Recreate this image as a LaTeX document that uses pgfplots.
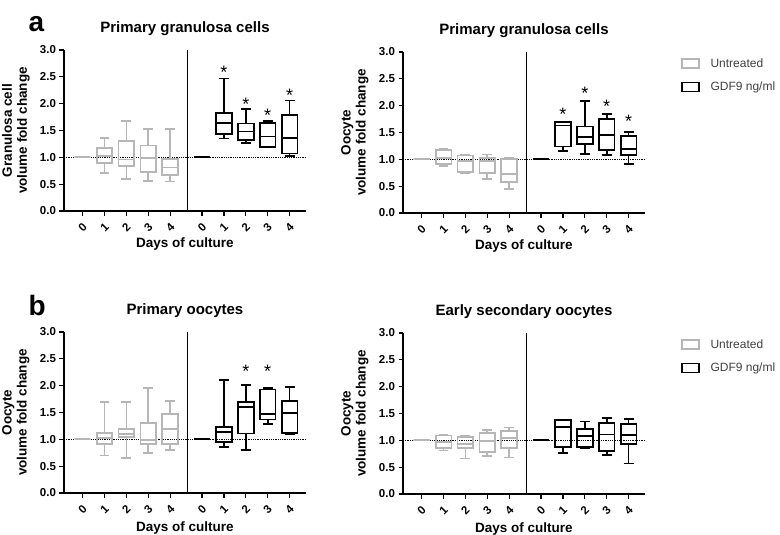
\documentclass[border=0pt]{standalone}
\usepackage{fontspec}
\setmainfont{Liberation Sans}
\usepackage{pgfplots}
\pgfplotsset{compat=1.18}
\usepgfplotslibrary{statistics}
\definecolor{ugray}{RGB}{182,182,182}
\newcommand{\bx}[7]{\addplot[#1, boxplot prepared={draw position=#2, lower whisker=#3, lower quartile=#4, median=#5, upper quartile=#6, upper whisker=#7}] coordinates {};}
\pgfplotsset{
  panel/.style={
    scale only axis, width=242pt, height=161pt,
    xmin=-0.85, xmax=10.2, ymin=0, ymax=3,
    axis x line*=bottom, axis y line*=left,
    axis line style={line width=1.7pt},
    tick align=outside, major tick length=4.5pt,
    tick style={line width=1.3pt, black},
    ytick={0,0.5,1,1.5,2,2.5,3},
    /pgf/number format/assume math mode=true,
    yticklabel style={/pgf/number format/fixed, /pgf/number format/fixed zerofill, /pgf/number format/precision=1},
    ticklabel style={font=\fontsize{11.5}{13}\selectfont\bfseries},
    xtick={0,1,2,3,4,5.45,6.45,7.45,8.45,9.45},
    xticklabels={0,1,2,3,4,0,1,2,3,4},
    xticklabel style={anchor=center, yshift=-12pt, rotate=45},
    xlabel={Days of culture},
    xlabel style={anchor=base, font=\fontsize{13.5}{15}\selectfont\bfseries},
    ylabel style={at={(axis description cs:-0.199,0.5)}, anchor=center, align=center, font=\fontsize{13.5}{15}\selectfont\bfseries},
    every axis title shift=0pt,
    title style={at={(axis description cs:0.5,1.1056)}, anchor=base, yshift=0pt, font=\fontsize{15}{17}\selectfont\bfseries},
    boxplot/draw direction=y,
    boxplot/box extend=0.72,
    boxplot/whisker extend=0.45,
    clip=false,
  },
  top/.style={xlabel style={at={(axis description cs:0.5,-0.2267)}}},
  bot/.style={xlabel style={at={(axis description cs:0.5,-0.2391)}}},
  ub/.style={forget plot, draw=ugray, line width=1.8pt, solid, mark=none, fill=none},
  gb/.style={forget plot, draw=black, line width=1.8pt, solid, mark=none, fill=none},
  ref/.style={forget plot, black, densely dotted, line width=0.8pt},
  stars/.style={forget plot, draw=none, mark=none, nodes near coords={*}, nodes near coords align={center}, every node near coord/.append style={font=\fontsize{18}{18}\selectfont, anchor=center}},
  leg/.style={
    legend style={at={(axis description cs:1.135,0.985)}, anchor=north west, draw=none, fill=none, font=\fontsize{12}{14}\selectfont, text=black!75, row sep=9pt, /tikz/every odd column/.append style={column sep=9pt}},
    legend cell align=left,
    legend image code/.code={\draw[##1, line width=1.7pt] (0pt,-4.5pt) rectangle (17pt,4.5pt);},
  },
}
\begin{document}
\begin{tikzpicture}
\useasboundingbox (0,0) rectangle (780pt,-535pt);
\node[anchor=base west, font=\fontsize{28}{28}\selectfont\bfseries] at (25pt,-32pt) {a};
\node[anchor=base west, font=\fontsize{28}{28}\selectfont\bfseries] at (25pt,-315pt) {b};

% Panel 1
\begin{axis}[panel, top, at={(64pt,-50pt)}, anchor=north west,
  title={Primary granulosa cells}, ylabel={Granulosa cell\\volume fold change}]
\addplot[ref] coordinates {(-0.85,1) (10.2,1)};
\addplot[forget plot, black, line width=1pt] coordinates {(4.8,0) (4.8,3)};
\bx{ub}{0}{1}{1}{1}{1}{1}
\bx{ub}{1}{0.71}{0.89}{1.02}{1.18}{1.36}
\bx{ub}{2}{0.59}{0.84}{0.96}{1.30}{1.67}
\bx{ub}{3}{0.56}{0.73}{0.99}{1.22}{1.53}
\bx{ub}{4}{0.55}{0.67}{0.81}{0.97}{1.53}
\bx{gb}{5.45}{1}{1}{1}{1}{1}
\bx{gb}{6.45}{1.35}{1.44}{1.64}{1.83}{2.47}
\bx{gb}{7.45}{1.27}{1.33}{1.48}{1.63}{1.90}
\bx{gb}{8.45}{1.19}{1.20}{1.39}{1.64}{1.67}
\bx{gb}{9.45}{1.02}{1.07}{1.36}{1.79}{2.06}
\addplot[stars] coordinates {(6.45,2.58) (7.45,1.99) (8.45,1.78) (9.45,2.15)};
\end{axis}

% Panel 2
\begin{axis}[panel, top, leg, at={(403pt,-52pt)}, anchor=north west,
  title={Primary granulosa cells}, ylabel={Oocyte\\volume fold change}]
\addplot[ref] coordinates {(-0.85,1) (10.2,1)};
\addplot[forget plot, black, line width=1pt] coordinates {(4.8,0) (4.8,3)};
\bx{ub}{0}{1}{1}{1}{1}{1}
\bx{ub}{1}{0.88}{0.91}{1.03}{1.17}{1.20}
\bx{ub}{2}{0.74}{0.76}{0.97}{1.07}{1.09}
\bx{ub}{3}{0.63}{0.75}{0.97}{1.03}{1.09}
\bx{ub}{4}{0.45}{0.58}{0.72}{1.00}{1.03}
\bx{gb}{5.45}{1}{1}{1}{1}{1}
\bx{gb}{6.45}{1.15}{1.24}{1.63}{1.69}{1.70}
\bx{gb}{7.45}{1.10}{1.29}{1.42}{1.61}{2.08}
\bx{gb}{8.45}{1.08}{1.18}{1.46}{1.75}{1.85}
\bx{gb}{9.45}{0.91}{1.08}{1.20}{1.44}{1.51}
\addplot[stars] coordinates {(6.45,1.83) (7.45,2.23) (8.45,1.98) (9.45,1.70)};
\addlegendimage{draw=ugray}
\addlegendentry{Untreated}
\addlegendimage{draw=black}
\addlegendentry{GDF9 ng/ml}
\end{axis}

% Panel 3
\begin{axis}[panel, bot, at={(64pt,-332pt)}, anchor=north west,
  title={Primary oocytes}, ylabel={Oocyte\\volume fold change}]
\addplot[ref] coordinates {(-0.85,1) (10.2,1)};
\addplot[forget plot, black, line width=1pt] coordinates {(4.8,0) (4.8,3)};
\bx{ub}{0}{1}{1}{1}{1}{1}
\bx{ub}{1}{0.70}{0.92}{1.02}{1.12}{1.70}
\bx{ub}{2}{0.65}{1.04}{1.10}{1.20}{1.70}
\bx{ub}{3}{0.75}{0.91}{0.99}{1.30}{1.96}
\bx{ub}{4}{0.80}{0.91}{1.20}{1.47}{1.71}
\bx{gb}{5.45}{1}{1}{1}{1}{1}
\bx{gb}{6.45}{0.86}{0.95}{1.14}{1.23}{2.11}
\bx{gb}{7.45}{0.80}{1.11}{1.60}{1.70}{2.01}
\bx{gb}{8.45}{1.28}{1.37}{1.47}{1.93}{1.96}
\bx{gb}{9.45}{1.09}{1.12}{1.49}{1.71}{1.98}
\addplot[stars] coordinates {(7.45,2.27) (8.45,2.27)};
\end{axis}

% Panel 4
\begin{axis}[panel, bot, leg, at={(403pt,-333pt)}, anchor=north west,
  title={Early secondary oocytes}, ylabel={Oocyte\\volume fold change}]
\addplot[ref] coordinates {(-0.85,1) (10.2,1)};
\addplot[forget plot, black, line width=1pt] coordinates {(4.8,0) (4.8,3)};
\bx{ub}{0}{1}{1}{1}{1}{1}
\bx{ub}{1}{0.81}{0.86}{0.97}{1.09}{1.10}
\bx{ub}{2}{0.66}{0.86}{0.93}{1.06}{1.08}
\bx{ub}{3}{0.71}{0.78}{0.99}{1.14}{1.20}
\bx{ub}{4}{0.68}{0.86}{1.04}{1.17}{1.24}
\bx{gb}{5.45}{1}{1}{1}{1}{1}
\bx{gb}{6.45}{0.77}{0.875}{1.25}{1.375}{1.38}
\bx{gb}{7.45}{0.85}{0.88}{1.08}{1.21}{1.35}
\bx{gb}{8.45}{0.725}{0.80}{1.11}{1.32}{1.41}
\bx{gb}{9.45}{0.57}{0.925}{1.10}{1.30}{1.40}
\addlegendimage{draw=ugray}
\addlegendentry{Untreated}
\addlegendimage{draw=black}
\addlegendentry{GDF9 ng/ml}
\end{axis}
\end{tikzpicture}
\end{document}
